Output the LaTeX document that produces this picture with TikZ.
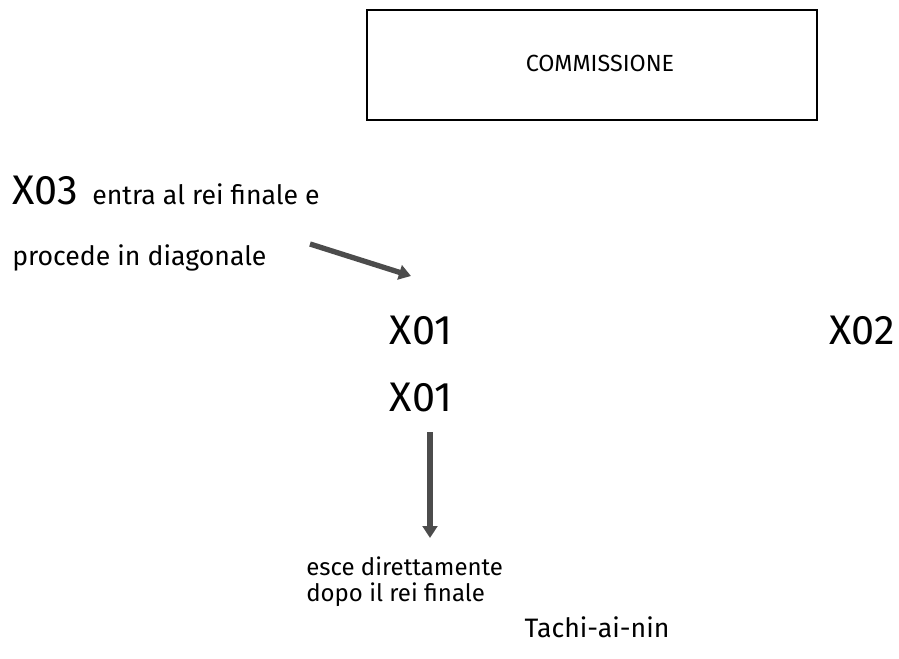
\documentclass[tikz,border=0pt]{standalone}
\usepackage{fontspec}
\setmainfont{Fira Sans}
\usetikzlibrary{positioning,arrows.meta}

\tikzset{
  pointer/.style={line width=4pt, draw=black!70, -{Triangle[length=9pt,width=11pt]}},
  big/.style={font=\fontsize{31}{36}\selectfont},
  small/.style={font=\fontsize{20}{24}\selectfont, align=left}
}

\begin{document}
\begin{tikzpicture}[x=0.75pt, y=-0.75pt]
    \useasboundingbox (0,0) rectangle (899,659);

    % Commissione
    \draw[line width=1.4pt] (367,10) rectangle (817,120);
    \node[font=\fontsize{17.5}{21}\selectfont] (comm) at (600,63) {COMMISSIONE};

    % X03 e note
    \node[big, anchor=base west, inner sep=0pt] (x03) at (12,205) {X03};
    \node[small, anchor=base west, inner sep=0pt] (entra) at (92,205) {entra al rei finale e};
    \node[small, anchor=base west, inner sep=0pt] (procede) at (12,266) {procede in diagonale};

    % Posizioni
    \node[big] (x01a) at (421,331) {X01};
    \node[big] (x02) at (862,331) {X02};
    \node[big] (x01b) at (421,398) {X01};

    % Frecce
    \coordinate (d1) at (310,244);
    \coordinate (d2) at (411,276);
    \draw[pointer] (d1) -- (d2);
    \coordinate (v1) at (430,432);
    \coordinate (v2) at (430,538);
    \draw[pointer] (v1) -- (v2);

    \node[font=\fontsize{18}{19.5}\selectfont, align=left, anchor=north west, inner sep=0pt] (esce) at (306,557) {esce direttamente\\dopo il rei finale};
    \node[font=\fontsize{20}{24}\selectfont] (tachi) at (597,627) {Tachi-ai-nin};
\end{tikzpicture}
\end{document}
